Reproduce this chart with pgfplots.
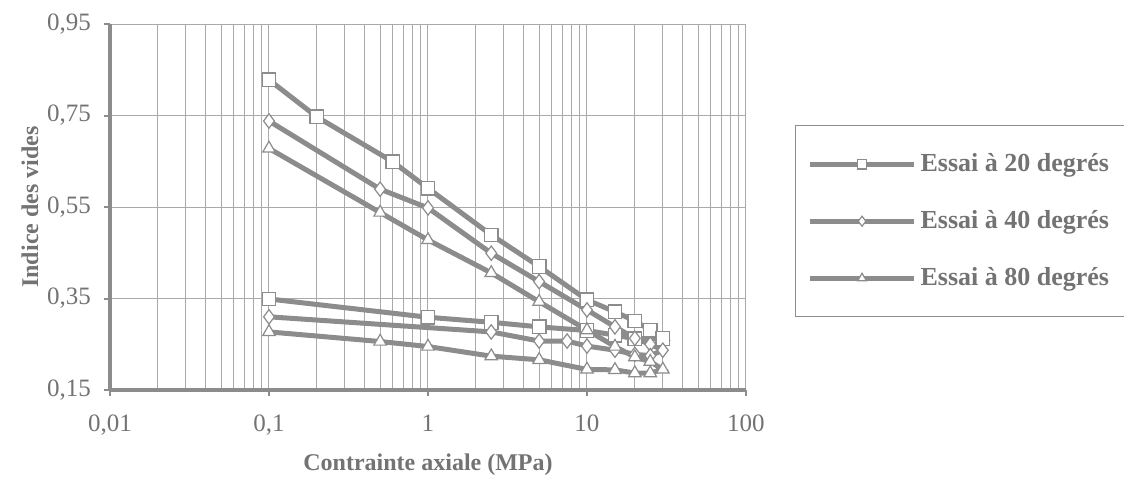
\documentclass[border=0pt]{standalone}
\usepackage{fontspec}
\setmainfont{Liberation Serif}
\usepackage{pgfplots}
\pgfplotsset{compat=1.18}
\definecolor{linegray}{RGB}{140,140,140}
\definecolor{gridgray}{RGB}{170,170,170}
\definecolor{textgray}{RGB}{115,115,115}
\begin{document}
\begin{tikzpicture}
\useasboundingbox (0,0) rectangle (562pt,239.5pt);
\begin{axis}[
  at={(55pt,44.5pt)}, anchor=south west,
  scale only axis, width=318pt, height=183pt,
  xmode=log, xmin=0.01, xmax=100, ymin=0.15, ymax=0.95,
  ytick={0.15,0.35,0.55,0.75,0.95},
  yticklabels={{0,15},{0,35},{0,55},{0,75},{0,95}},
  xtick={0.01,0.1,1,10,100},
  xticklabels={{0,01},{0,1},1,10,100},
  minor xtick={0.02,0.03,0.04,0.05,0.06,0.07,0.08,0.09,0.2,0.3,0.4,0.5,0.6,0.7,0.8,0.9,2,3,4,5,6,7,8,9,20,30,40,50,60,70,80,90},
  grid=both,
  major grid style={gridgray, line width=0.5pt},
  minor grid style={gridgray, line width=0.5pt},
  axis x line*=bottom, axis y line*=left,
  axis line style={linegray, line width=2pt, -},
  tick align=outside,
  major tick length=3pt, minor tick length=0pt,
  tick style={linegray, line width=1pt},
  ticklabel style={font=\fontsize{12.5}{14}\selectfont, text=textgray},
  xticklabel style={yshift=-6pt},
  yticklabel style={xshift=-3pt},
  xlabel={Contrainte axiale (MPa)},
  ylabel={Indice des vides},
  label style={font=\bfseries\fontsize{12}{14}\selectfont, text=textgray},
  xlabel style={at={(axis description cs:0.5,0)}, yshift=-37.5pt, anchor=center},
  ylabel style={at={(axis description cs:-0.126,0.5)}, anchor=center},
  legend style={at={(axis description cs:1.077,0.724)}, anchor=north west,
    draw=linegray, line width=0.6pt, fill=white,
    font=\bfseries\fontsize{13}{15}\selectfont, text=textgray,
    row sep=14pt, inner xsep=6pt, inner ysep=12pt,
    nodes={inner sep=2pt}},
  legend cell align=left,
  legend image code/.code={\draw[mark repeat=2, mark phase=2, every mark/.append style={scale=0.7}] plot coordinates {(0pt,0pt) (26pt,0pt) (52pt,0pt)};},
  every axis plot/.append style={linegray, line width=2.5pt,
    mark options={fill=white, draw=linegray, line width=0.6pt, solid}},
]
\addplot[mark=square*, mark size=3.4pt] coordinates {
  (0.1,0.828) (0.2,0.747) (0.6,0.649) (1,0.591) (2.5,0.489) (5,0.42) (10,0.347)
  (15,0.321) (20,0.301) (25,0.281) (30,0.263)
  (20,0.262) (15,0.270) (10,0.280) (5,0.288) (2.5,0.298) (1,0.309) (0.1,0.349)};
\addlegendentry{Essai à 20 degrés}
\addplot[mark=diamond*, mark size=3.6pt] coordinates {
  (0.1,0.738) (0.5,0.589) (1,0.548) (2.5,0.449) (5,0.387) (10,0.325)
  (15,0.288) (20,0.263) (25,0.250) (30,0.237)
  (25,0.225) (20,0.228) (15,0.237) (10,0.246) (7.5,0.257) (5,0.257) (2.5,0.277) (0.1,0.310)};
\addlegendentry{Essai à 40 degrés}
\addplot[mark=triangle*, mark size=3.6pt] coordinates {
  (0.1,0.678) (0.5,0.538) (1,0.478) (2.5,0.406) (5,0.343) (10,0.281)
  (15,0.245) (20,0.222) (25,0.212) (30,0.195)
  (25,0.187) (20,0.187) (15,0.194) (10,0.195) (5,0.216) (2.5,0.224) (1,0.245) (0.5,0.256) (0.1,0.277)};
\addlegendentry{Essai à 80 degrés}
\end{axis}
\end{tikzpicture}
\end{document}
